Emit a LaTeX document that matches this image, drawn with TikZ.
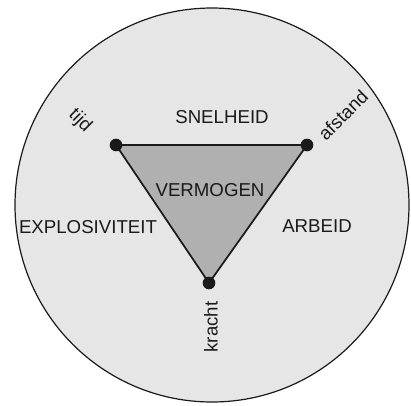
\documentclass[tikz,border=0pt]{standalone}
\usepackage{fontspec}
\setmainfont{Liberation Sans}
\usetikzlibrary{positioning}
\definecolor{ink}{HTML}{1a1a1a}
\definecolor{disc}{HTML}{E6E6E6}
\definecolor{core}{HTML}{B0B0B0}
\tikzset{
  rim/.style={draw=ink,line width=0.9pt,fill=disc},
  side/.style={draw=ink,line width=1.3pt,line join=round},
  dot/.style={circle,fill=ink,inner sep=0pt,minimum size=9.5pt},
  lab/.style={font=\fontsize{14}{16}\selectfont,text=ink,inner sep=1pt},
}
\begin{document}
\begin{tikzpicture}[x=0.75pt,y=-0.75pt]
\useasboundingbox (0,0) rectangle (411,405);
% outer disc
\path[rim] (212,205) circle[radius=197];
% corners of the triangle
\coordinate (t) at (116,145);
\coordinate (a) at (307,145);
\coordinate (k) at (209,283);
\fill[core] (t) -- (a) -- (k) -- cycle;
\draw[side] (t) -- (a) -- (k) -- cycle;
\node[dot] (tijd) at (t) {};
\node[dot] (afstand) at (a) {};
\node[dot] (kracht) at (k) {};
% quantities
\node[lab] (snelheid) at (222,117) {SNELHEID};
\node[lab] (vermogen) at (210,190) {VERMOGEN};
\node[lab] (explo) at (88,227) {EXPLOSIVITEIT};
\node[lab] (arbeid) at (317,226) {ARBEID};
\node[lab,rotate=-45] (tijdlab) at (80,121) {tijd};
\node[lab,rotate=45] (afstandlab) at (343,115) {afstand};
\node[lab,rotate=90] (krachtlab) at (211,327) {kracht};
\end{tikzpicture}
\end{document}
